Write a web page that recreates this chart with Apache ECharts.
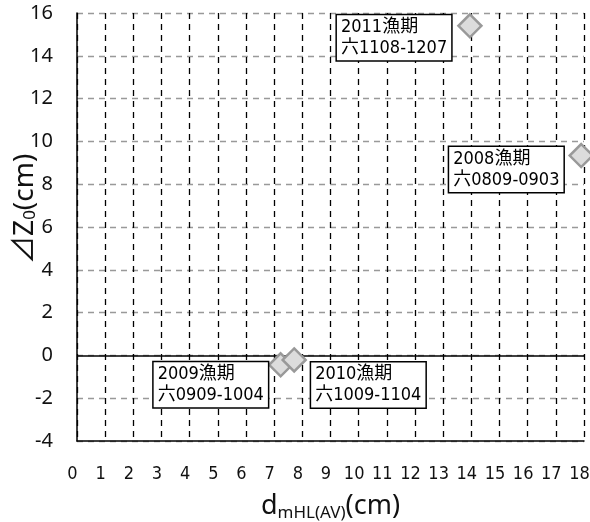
<!DOCTYPE html>
<html><head><meta charset="utf-8">
<script src="https://cdn.jsdelivr.net/npm/echarts@6/dist/echarts.min.js"></script>
<style>html,body{margin:0;padding:0;background:#fff}#c{width:590px;height:522px}</style>
</head><body><div id="c"></div>
<script>
var xValues = [17.9, 7.23, 7.71, 13.95];
var yValues = [9.34, -0.44, -0.21, 15.4];
var pointLabels = ['2008漁期\n六0809-0903', '2009漁期\n六0909-1004', '2010漁期\n六1009-1104', '2011漁期\n六1108-1207'];
var labelOffsets = [[-132, 14], [-127, 20], [17, 25], [-133, 12]];

var narrow = '"Liberation Sans Narrow","DejaVu Sans Condensed","Noto Sans CJK JP",sans-serif';
var chart = echarts.init(document.getElementById('c'), null, {renderer: 'canvas'});
var data = xValues.map(function (x, i) {
  return {
    value: [x, yValues[i]],
    label: {offset: labelOffsets[i], formatter: pointLabels[i]}
  };
});
chart.setOption({
  animation: false,
  grid: {left: 77, right: 6, top: 13, bottom: 81, containLabel: false, outerBoundsMode: 'none'},
  xAxis: {
    type: 'value', min: 0, max: 18, interval: 1,
    axisLine: {onZero: false, lineStyle: {color: '#000', width: 1.5}},
    axisTick: {show: false},
    axisLabel: {margin: 24, color: '#111', fontSize: 18, fontFamily: narrow, padding: [0, 9, 0, 0]},
    splitLine: {show: true, lineStyle: {color: '#000', type: [6, 5], width: 1.3}},
    name: 'd{sub|mHL(AV)}(cm)',
    nameLocation: 'middle', nameGap: 50, nameMoveOverlap: false,
    nameTextStyle: {color: '#111', fontSize: 27, fontFamily: '"Noto Sans", sans-serif',
      rich: {sub: {fontSize: 17, verticalAlign: 'bottom', padding: [14, 0, 0, 0], color: '#111', fontFamily: '"Noto Sans", sans-serif'}}}
  },
  yAxis: {
    type: 'value', min: -4, max: 16, interval: 2,
    axisLine: {show: true, onZero: false, lineStyle: {color: '#000', width: 1.5}},
    axisTick: {show: false},
    axisLabel: {margin: 24, color: '#111', fontSize: 20, fontFamily: '"Noto Sans", sans-serif'},
    splitLine: {show: true, lineStyle: {color: '#999', type: [6, 5], width: 1.3}},
    name: '     ⊿Z{sub|0}(cm)',
    nameLocation: 'middle', nameGap: 38, nameRotate: 90, nameMoveOverlap: false,
    nameTextStyle: {color: '#111', fontSize: 28, fontFamily: '"Noto Sans", "Noto Sans CJK JP", sans-serif',
      rich: {sub: {fontSize: 17, verticalAlign: 'bottom', padding: [11, 0, 0, 0], color: '#111'}}}
  },
  series: [{
    type: 'scatter',
    symbol: 'diamond',
    symbolSize: 23,
    itemStyle: {color: '#dcdcdc', borderColor: '#999', borderWidth: 2.5, opacity: 1},
    label: {
      show: true, position: 'inside', color: '#000', fontSize: 18, lineHeight: 21,
      fontFamily: narrow, backgroundColor: '#fff', borderColor: '#000', borderWidth: 1.5,
      textBorderWidth: 0, textBorderColor: 'transparent',
      padding: [2, 4, 1, 4], align: 'left', verticalAlign: 'middle'
    },
    data: data,
    markLine: {
      silent: true, symbol: 'none', label: {show: false},
      lineStyle: {color: '#000', type: 'solid', width: 1.5},
      data: [{yAxis: 0}]
    },
    z: 5
  }]
});
</script></body></html>
